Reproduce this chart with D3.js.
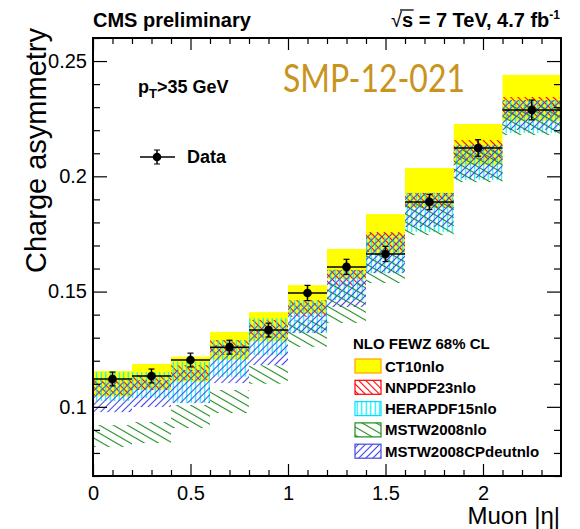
<!DOCTYPE html>
<html><head><meta charset="utf-8">
<script src="https://cdn.jsdelivr.net/npm/d3@7"></script>
<style>
body{margin:0;background:#fff;}
svg{display:block;font-family:"Liberation Sans",Arial,Helvetica,sans-serif;}
</style></head><body>
<svg id="chart" width="580" height="529"></svg>
<script>
// Muon |eta| bin edges
const etaEdges = [0, 0.2, 0.4, 0.6, 0.8, 1.0, 1.2, 1.4, 1.6, 1.85, 2.1, 2.4];

// Measured charge asymmetry (pT > 35 GeV) and its uncertainty
const dataAsym = [0.1121, 0.1134, 0.1203, 0.1259, 0.1333, 0.1494, 0.1607, 0.1663, 0.1889, 0.2123, 0.2288];
const dataErr  = [0.0030, 0.0030, 0.0030, 0.0030, 0.0030, 0.0033, 0.0033, 0.0033, 0.0033, 0.0036, 0.0043];

// NLO FEWZ predictions, 68% CL band edges per PDF set
const ct10Lo  = [0.1045, 0.1075, 0.1110, 0.1205, 0.1285, 0.1405, 0.1555, 0.1665, 0.1865, 0.2050, 0.2240];
const ct10Hi  = [0.1155, 0.1186, 0.1218, 0.1325, 0.1411, 0.1528, 0.1685, 0.1836, 0.2036, 0.2227, 0.2440];
const nnpdfLo = [0.1050, 0.1073, 0.1116, 0.1225, 0.1298, 0.1390, 0.1525, 0.1672, 0.1863, 0.2071, 0.2257];
const nnpdfHi = [0.1116, 0.1138, 0.1181, 0.1290, 0.1377, 0.1463, 0.1594, 0.1758, 0.1928, 0.2157, 0.2344];
const heraLo  = [0.1025, 0.1038, 0.1018, 0.1130, 0.1225, 0.1320, 0.1463, 0.1580, 0.1758, 0.1984, 0.2188];
const heraHi  = [0.1151, 0.1151, 0.1195, 0.1290, 0.1385, 0.1463, 0.1594, 0.1737, 0.1928, 0.2136, 0.2331];
const mstwLo  = [0.0826, 0.0843, 0.0908, 0.0973, 0.1100, 0.1260, 0.1364, 0.1537, 0.1745, 0.1975, 0.2179];
const mstwHi  = [0.0921, 0.0934, 0.1008, 0.1073, 0.1180, 0.1375, 0.1537, 0.1667, 0.1884, 0.2114, 0.2309];
const cpdLo   = [0.0977, 0.0999, 0.1016, 0.1103, 0.1181, 0.1320, 0.1433, 0.1580, 0.1780, 0.1993, 0.2201];
const cpdHi   = [0.1107, 0.1116, 0.1160, 0.1268, 0.1355, 0.1450, 0.1594, 0.1754, 0.1928, 0.2136, 0.2331];

// Axis ticks
const xMajor = [0, 0.5, 1, 1.5, 2];
const xTickLabels = ["0", "0.5", "1", "1.5", "2"];
const yMajor = [0.1, 0.15, 0.2, 0.25];
const yTickLabels = ["0.1", "0.15", "0.2", "0.25"];

const bands = [
  {name: "CT10nlo",           lo: ct10Lo,  hi: ct10Hi,  color: "#ffff00", edge: "#ffa000", hatch: null},
  {name: "NNPDF23nlo",        lo: nnpdfLo, hi: nnpdfHi, color: "#ff0000", edge: "#ff0000", hatch: {spacing: 5,   angle: -45, width: 1.1}},
  {name: "HERAPDF15nlo",      lo: heraLo,  hi: heraHi,  color: "#00f0ff", edge: "#00e0ff", hatch: {spacing: 4.5, angle: 0,   width: 1.2}},
  {name: "MSTW2008nlo",       lo: mstwLo,  hi: mstwHi,  color: "#1e8c1e", edge: "#1e8c1e", hatch: {spacing: 7,   angle: -60, width: 1.1}},
  {name: "MSTW2008CPdeutnlo", lo: cpdLo,   hi: cpdHi,   color: "#4646e6", edge: "#4646e6", hatch: {spacing: 5,   angle: 45,  width: 1.1}}
];

const X0 = 93, X1 = 561, Y0 = 38, Y1 = 476;
const svg = d3.select("#chart");
const x = d3.scaleLinear().domain([0, 2.4]).range([X0, X1]);
const y = d3.scaleLinear().domain([0.07, 0.26]).range([Y1, Y0]);

// hatch patterns
const defs = svg.append("defs");
bands.forEach((b, k) => {
  if (!b.hatch) return;
  const h = b.hatch;
  const p = defs.append("pattern").attr("id", "hatch" + k)
    .attr("patternUnits", "userSpaceOnUse")
    .attr("width", h.spacing).attr("height", 10)
    .attr("patternTransform", `rotate(${h.angle})`);
  p.append("line").attr("x1", h.spacing / 2).attr("x2", h.spacing / 2)
    .attr("y1", -1).attr("y2", 11)
    .attr("stroke", b.color).attr("stroke-width", h.width);
});
const fillOf = (b, k) => b.hatch ? `url(#hatch${k})` : b.color;

// prediction bands
const bins = d3.range(dataAsym.length);
bands.forEach((b, k) => {
  svg.append("g").selectAll("rect").data(bins).join("rect")
    .attr("x", i => x(etaEdges[i]))
    .attr("width", i => x(etaEdges[i + 1]) - x(etaEdges[i]))
    .attr("y", i => y(b.hi[i]))
    .attr("height", i => y(b.lo[i]) - y(b.hi[i]))
    .attr("fill", fillOf(b, k));
});

// data points
const gData = svg.append("g").attr("stroke", "#000");
bins.forEach(i => {
  const cx = x((etaEdges[i] + etaEdges[i + 1]) / 2), cy = y(dataAsym[i]);
  const yt = y(dataAsym[i] + dataErr[i]), yb = y(dataAsym[i] - dataErr[i]);
  gData.append("line").attr("x1", x(etaEdges[i])).attr("x2", x(etaEdges[i + 1]))
    .attr("y1", cy).attr("y2", cy).attr("stroke-width", 1.5);
  gData.append("line").attr("x1", cx).attr("x2", cx).attr("y1", yt).attr("y2", yb).attr("stroke-width", 1.5);
  [yt, yb].forEach(v => gData.append("line").attr("x1", cx - 3).attr("x2", cx + 3)
    .attr("y1", v).attr("y2", v).attr("stroke-width", 1.2));
  gData.append("circle").attr("cx", cx).attr("cy", cy).attr("r", 4.3).attr("fill", "#000").attr("stroke", "none");
});

// axes with inward ticks on all four sides
const xMinor = d3.range(1, 24).map(i => i / 10).filter(v => !xMajor.some(m => Math.abs(m - v) < 1e-9));
const yMinor = d3.range(7, 27).map(i => i / 100).filter(v => !yMajor.some(m => Math.abs(m - v) < 1e-9));

function styleAxis(g) {
  g.select(".domain").remove();
  g.selectAll(".tick line").attr("stroke", "#000").attr("stroke-width", 1.2);
  g.selectAll(".tick text").attr("font-size", 20).attr("fill", "#000")
    .attr("font-family", "'Liberation Sans', Arial, sans-serif");
}
svg.append("g").attr("transform", `translate(0,${Y1})`)
  .call(d3.axisBottom(x).tickValues(xMajor).tickSize(-12).tickPadding(10)
    .tickFormat((d, i) => xTickLabels[i])).call(styleAxis);
svg.append("g").attr("transform", `translate(0,${Y1})`)
  .call(d3.axisBottom(x).tickValues(xMinor).tickSize(-6).tickFormat("")).call(styleAxis);
svg.append("g").attr("transform", `translate(0,${Y0})`)
  .call(d3.axisTop(x).tickValues(xMajor).tickSize(-12).tickFormat("")).call(styleAxis);
svg.append("g").attr("transform", `translate(0,${Y0})`)
  .call(d3.axisTop(x).tickValues(xMinor).tickSize(-6).tickFormat("")).call(styleAxis);

svg.append("g").attr("transform", `translate(${X0},0)`)
  .call(d3.axisLeft(y).tickValues(yMajor).tickSize(-14).tickPadding(6)
    .tickFormat((d, i) => yTickLabels[i])).call(styleAxis);
svg.append("g").attr("transform", `translate(${X0},0)`)
  .call(d3.axisLeft(y).tickValues(yMinor).tickSize(-7).tickFormat("")).call(styleAxis);
svg.append("g").attr("transform", `translate(${X1},0)`)
  .call(d3.axisRight(y).tickValues(yMajor).tickSize(-14).tickFormat("")).call(styleAxis);
svg.append("g").attr("transform", `translate(${X1},0)`)
  .call(d3.axisRight(y).tickValues(yMinor).tickSize(-7).tickFormat("")).call(styleAxis);

// frame
svg.append("rect").attr("x", X0).attr("y", Y0).attr("width", X1 - X0).attr("height", Y1 - Y0)
  .attr("fill", "none").attr("stroke", "#000").attr("stroke-width", 2);

// axis titles
svg.append("text").attr("transform", `translate(46,28) rotate(-90)`)
  .attr("text-anchor", "end").attr("font-size", 29).text("Charge asymmetry");
svg.append("text").attr("x", X1 - 1).attr("y", 524).attr("text-anchor", "end")
  .attr("font-size", 24).text("Muon |η|");

// header
svg.append("text").attr("x", X0).attr("y", 27).attr("font-size", 20).attr("font-weight", "bold")
  .text("CMS preliminary");
const hdr = svg.append("text").attr("x", 560).attr("y", 27).attr("text-anchor", "end")
  .attr("font-size", 20).attr("font-weight", "bold");
hdr.append("tspan").attr("font-weight", "normal").text("√");
hdr.append("tspan").text("s = 7 TeV, 4.7 fb");
hdr.append("tspan").attr("font-size", 12).attr("dy", -8).text("-1");
// overline of the square root over "s"
{
  const node = hdr.node();
  const s1 = node.getEndPositionOfChar(1);
  const r0 = node.getStartPositionOfChar(0);
  svg.append("line").attr("x1", r0.x + 9).attr("x2", s1.x + 0.5)
    .attr("y1", 10).attr("y2", 10).attr("stroke", "#000").attr("stroke-width", 1.3);
}

svg.append("text").attr("x", 283).attr("y", 92).attr("font-size", 38)
  .attr("font-family", "Lato, 'Open Sans', sans-serif").attr("fill", "#c8941c")
  .attr("textLength", 182).attr("lengthAdjust", "spacingAndGlyphs")
  .text("SMP-12-021");

const pt = svg.append("text").attr("x", 138).attr("y", 93).attr("font-size", 18).attr("font-weight", "bold");
pt.append("tspan").text("p");
pt.append("tspan").attr("font-size", 13).attr("dy", 5).text("T");
pt.append("tspan").attr("dy", -5).text(">35 GeV");

// data legend entry
{
  const ly = 157, lx = 157;
  const g = svg.append("g").attr("stroke", "#000");
  g.append("line").attr("x1", lx - 17).attr("x2", lx + 18).attr("y1", ly).attr("y2", ly).attr("stroke-width", 1.5);
  g.append("line").attr("x1", lx).attr("x2", lx).attr("y1", ly - 7).attr("y2", ly + 7).attr("stroke-width", 1.5);
  [ly - 7, ly + 7].forEach(v => g.append("line").attr("x1", lx - 3).attr("x2", lx + 3).attr("y1", v).attr("y2", v));
  g.append("circle").attr("cx", lx).attr("cy", ly).attr("r", 4.3).attr("fill", "#000").attr("stroke", "none");
  svg.append("text").attr("x", 187).attr("y", 163).attr("font-size", 18).attr("font-weight", "bold").text("Data");
}

// PDF legend
svg.append("text").attr("x", 353).attr("y", 349).attr("font-size", 15).attr("font-weight", "bold")
  .text("NLO FEWZ 68% CL");
const leg = svg.append("g").selectAll("g").data(bands).join("g")
  .attr("transform", (d, k) => `translate(355,${359 + k * 21.3})`);
leg.append("rect").attr("width", 26).attr("height", 14)
  .attr("fill", (d, k) => fillOf(d, k)).attr("stroke", d => d.edge).attr("stroke-width", 1.2);
leg.append("text").attr("x", 30).attr("y", 12.5).attr("font-size", 15).attr("font-weight", "bold")
  .text(d => d.name);
</script>
</body></html>
